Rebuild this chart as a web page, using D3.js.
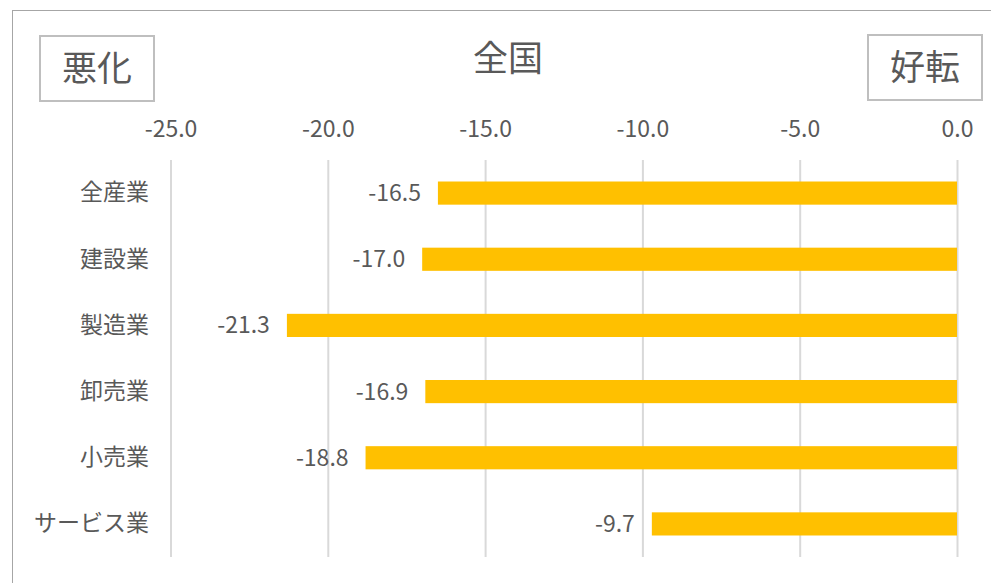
<!DOCTYPE html>
<html lang="ja">
<head>
<meta charset="utf-8">
<script src="https://cdn.jsdelivr.net/npm/d3@7"></script>
<style>
  html, body { margin: 0; padding: 0; background: #fff; }
  svg { display: block; }
  svg text { font-family: "Noto Sans CJK JP", "Noto Sans", sans-serif; font-weight: 400; }
</style>
</head>
<body>
<svg id="chart" width="991" height="583"></svg>
<script>
// 業種別の値（全国）
const categories = ["全産業", "建設業", "製造業", "卸売業", "小売業", "サービス業"];
const values = [-16.5, -17.0, -21.3, -16.9, -18.8, -9.7];
const tickValues = [-25, -20, -15, -10, -5, 0];
const titleText = "全国";
const leftTag = "悪化";
const rightTag = "好転";

const svg = d3.select("#chart");
const textColor = "#595959";

// outer frame of the chart area
svg.append("rect")
  .attr("x", 12.5).attr("y", 10.5)
  .attr("width", 1000).attr("height", 600)
  .attr("fill", "none").attr("stroke", "#a6a6a6").attr("stroke-width", 1);

const plotTop = 160, plotBottom = 557;
const x = d3.scaleLinear().domain([-25, 0]).range([170.5, 957]);
const y = d3.scaleBand().domain(categories)
  .range([plotTop, plotBottom])
  .paddingInner(0.65).paddingOuter(0.325);

// value axis with vertical gridlines
const xAxis = svg.append("g")
  .attr("transform", `translate(0,${plotTop})`)
  .call(d3.axisTop(x)
    .tickValues(tickValues)
    .tickFormat(d => d.toFixed(1))
    .tickSize(-(plotBottom - plotTop))
    .tickPadding(23));
xAxis.attr("font-family", null);
xAxis.select(".domain").remove();
xAxis.selectAll(".tick line").attr("stroke", "#d9d9d9").attr("stroke-width", 2);
xAxis.selectAll(".tick text")
  .attr("fill", textColor).style("font-size", "23px");

// category axis
const yAxis = svg.append("g")
  .attr("transform", "translate(149,0)")
  .call(d3.axisLeft(y).tickSize(0).tickPadding(0));
yAxis.attr("font-family", null);
yAxis.select(".domain").remove();
yAxis.selectAll(".tick text")
  .attr("fill", textColor).style("font-size", "23px");

// bars
svg.append("g").selectAll("rect")
  .data(values)
  .join("rect")
  .attr("x", d => x(d))
  .attr("y", (d, i) => y(categories[i]))
  .attr("width", d => x(0) - x(d))
  .attr("height", y.bandwidth())
  .attr("fill", "#ffc000");

// value labels
svg.append("g").selectAll("text")
  .data(values)
  .join("text")
  .attr("x", d => x(d) - 17)
  .attr("y", (d, i) => y(categories[i]) + y.bandwidth() / 2)
  .attr("dy", "0.35em")
  .attr("text-anchor", "end")
  .attr("fill", textColor)
  .style("font-size", "23px")
  .text(d => d.toFixed(1));

// title
svg.append("text")
  .attr("x", 508).attr("y", 59).attr("dy", "0.35em")
  .attr("text-anchor", "middle")
  .attr("fill", textColor)
  .style("font-size", "35px")
  .text(titleText);

// direction tags
function tag(x0, y0, w, h, label) {
  svg.append("rect")
    .attr("x", x0).attr("y", y0).attr("width", w).attr("height", h)
    .attr("fill", "#fff").attr("stroke", "#bfbfbf").attr("stroke-width", 2);
  svg.append("text")
    .attr("x", x0 + w / 2).attr("y", y0 + h / 2).attr("dy", "0.35em")
    .attr("text-anchor", "middle")
    .attr("fill", textColor)
    .style("font-size", "35px")
    .text(label);
}
tag(40, 36, 114, 65, leftTag);
tag(868, 35, 114, 65, rightTag);
</script>
</body>
</html>
